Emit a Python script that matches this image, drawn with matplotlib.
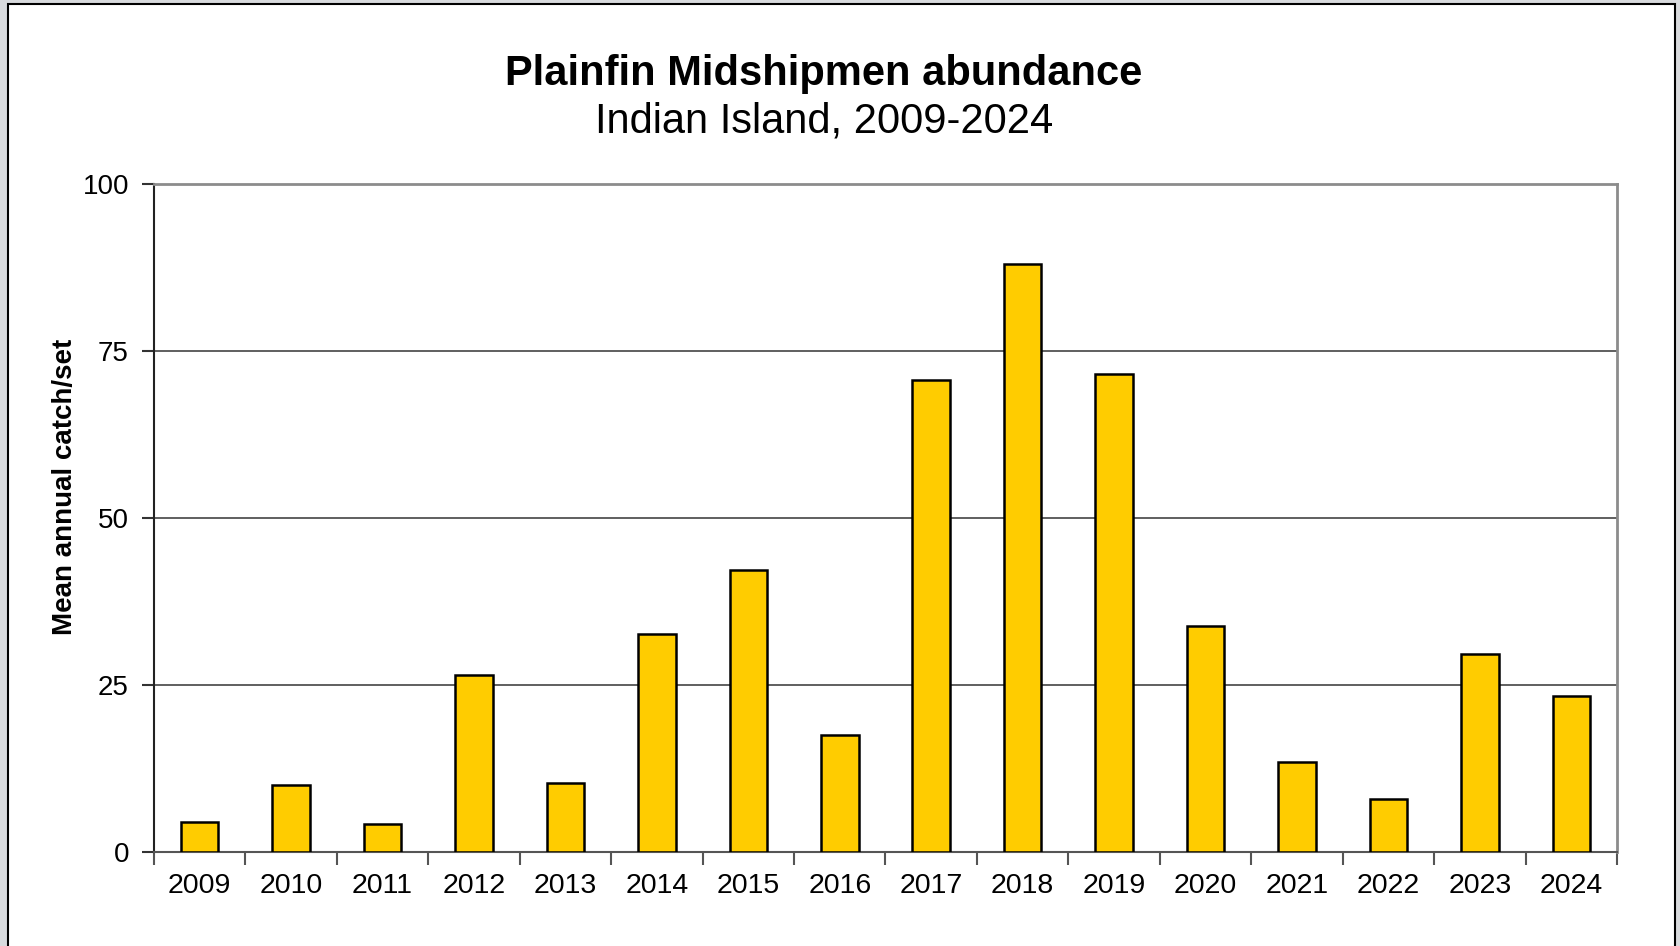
import numpy as np
import matplotlib
matplotlib.use("Agg")
from matplotlib import pyplot as plt
from matplotlib.patches import Rectangle

plt.rcParams['font.family'] = ['Liberation Sans', 'DejaVu Sans']

# Data
years = ['2009', '2010', '2011', '2012', '2013', '2014', '2015', '2016',
         '2017', '2018', '2019', '2020', '2021', '2022', '2023', '2024']
catch = [4.5, 10.0, 4.2, 26.5, 10.4, 32.7, 42.2, 17.5,
         70.6, 88.0, 71.6, 33.9, 13.5, 8.0, 29.7, 23.3]
yticks = [0, 25, 50, 75, 100]

fig = plt.figure(figsize=(16.81, 9.46), dpi=100)
fig.patch.set_facecolor('#d8dadd')

# white panel with black frame (behind the axes)
panel = Rectangle((8/1681, -0.05), (1675-8)/1681, 1.05 - 4/946,
                  transform=fig.transFigure, facecolor='white',
                  edgecolor='black', linewidth=1.5, zorder=-5)
fig.add_artist(panel)

ax = fig.add_axes([154/1681, 1-852/946, (1617-154)/1681, (852-184)/946])
ax.set_facecolor('white')

x = np.arange(len(years))
ax.bar(x, catch, width=0.41, color='#ffcc00', edgecolor='black',
       linewidth=1.8, zorder=3)

ax.set_xlim(-0.5, len(years)-0.5)
ax.set_ylim(0, 100)
ax.set_yticks(yticks)
ax.set_yticklabels([str(t) for t in yticks], fontsize=20)
ax.yaxis.grid(True, color='#444444', linewidth=1.2, zorder=0)
ax.set_axisbelow(True)

# x ticks on category borders, labels in the middle
ax.set_xticks(np.arange(-0.5, len(years), 1.0))
ax.set_xticklabels([])
ax.set_xticks(x, minor=True)
ax.set_xticklabels(years, minor=True, fontsize=20.5)
ax.tick_params(axis='x', which='minor', length=0, pad=15)
ax.tick_params(axis='x', which='major', length=9, width=1.5, color='#555555')
ax.tick_params(axis='y', length=9, width=1.5, color='#333333', pad=9)

for s in ['top', 'right']:
    ax.spines[s].set_color('#8c8c8c')
    ax.spines[s].set_linewidth(2)
ax.spines['left'].set_color('#222222')
ax.spines['left'].set_linewidth(1.5)
ax.spines['bottom'].set_color('#555555')
ax.spines['bottom'].set_linewidth(1.5)

ax.set_ylabel('Mean annual catch/set', fontsize=20, fontweight='bold', va='center')
ax.yaxis.set_label_coords((65-154)/1463, 0.546)

fig.text(0.49, 1-74/946, 'Plainfin Midshipmen abundance', ha='center', va='center',
         fontsize=30, fontweight='bold')
fig.text(0.49, 1-121/946, 'Indian Island, 2009-2024', ha='center', va='center',
         fontsize=30)

fig.savefig('out.png', dpi=100, facecolor=fig.get_facecolor())
